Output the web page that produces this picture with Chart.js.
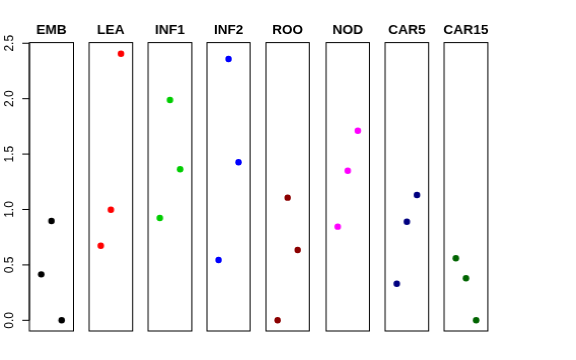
<!DOCTYPE html>
<html>
<head>
<meta charset="utf-8">
<script src="https://cdn.jsdelivr.net/npm/chart.js@4"></script>
<style>
  html, body { margin: 0; padding: 0; background: #fff; }
  #wrap { position: relative; width: 576px; height: 360px; overflow: hidden; }
  .panel { position: absolute; top: 0; height: 360px; }
</style>
</head>
<body>
<div id="wrap"></div>
<script>
const panelNames = ["EMB", "LEA", "INF1", "INF2", "ROO", "NOD", "CAR5", "CAR15"];
const panelColors = ["#000000", "#FF0000", "#00CD00", "#0000FF", "#8B0000", "#FF00FF", "#000080", "#006400"];
const yTicks = [0, 0.5, 1, 1.5, 2, 2.5];

const emb = [0.415, 0.896, 0];
const lea = [0.673, 0.998, 2.406];
const inf1 = [0.923, 1.988, 1.363];
const inf2 = [0.544, 2.358, 1.426];
const roo = [0, 1.107, 0.634];
const nod = [0.845, 1.35, 1.711];
const car5 = [0.33, 0.89, 1.131];
const car15 = [0.56, 0.379, 0];
const allValues = [emb, lea, inf1, inf2, roo, nod, car5, car15];

const wrap = document.getElementById("wrap");
const plotTop = 42.6, plotBottom = 331;
const firstLeft = 29, step = 59.2, panelW = 44.5;

// box, title and (first panel only) the left axis
const panelDeco = {
  id: "panelDeco",
  afterDraw(chart, args, opts) {
    const { ctx, chartArea: a } = chart;
    ctx.save();
    ctx.strokeStyle = "#000";
    ctx.lineWidth = 1;
    ctx.strokeRect(a.left, a.top, a.right - a.left, a.bottom - a.top);

    ctx.fillStyle = "#000";
    ctx.font = "bold 13.5px 'Liberation Sans', Arial, sans-serif";
    ctx.textAlign = "center";
    ctx.textBaseline = "alphabetic";
    ctx.fillText(opts.name, (a.left + a.right) / 2, 34.3);

    if (opts.axis) {
      const y = chart.scales.y;
      ctx.beginPath();
      ctx.moveTo(a.left, y.getPixelForValue(yTicks[0]));
      ctx.lineTo(a.left, y.getPixelForValue(yTicks[yTicks.length - 1]));
      yTicks.forEach(t => {
        const py = y.getPixelForValue(t);
        ctx.moveTo(a.left - 7, py);
        ctx.lineTo(a.left, py);
      });
      ctx.stroke();
      ctx.font = "12px 'Liberation Sans', Arial, sans-serif";
      yTicks.forEach(t => {
        const py = y.getPixelForValue(t);
        ctx.save();
        ctx.translate(12.7, py);
        ctx.rotate(-Math.PI / 2);
        ctx.textAlign = "center";
        ctx.fillText(t.toFixed(1), 0, 0);
        ctx.restore();
      });
    }
    ctx.restore();
  }
};

panelNames.forEach((name, i) => {
  const left = firstLeft + i * step;
  const divLeft = i === 0 ? 0 : Math.floor(left) - 3;
  const padLeft = left - divLeft;
  const div = document.createElement("div");
  div.className = "panel";
  div.style.left = divLeft + "px";
  div.style.width = (padLeft + panelW + 3) + "px";
  const canvas = document.createElement("canvas");
  div.appendChild(canvas);
  wrap.appendChild(div);

  new Chart(canvas, {
    type: "scatter",
    data: {
      datasets: [{
        data: allValues[i].map((v, j) => ({ x: j + 1, y: v })),
        backgroundColor: panelColors[i],
        borderWidth: 0,
        pointRadius: 3.2
      }]
    },
    options: {
      responsive: true,
      maintainAspectRatio: false,
      animation: false,
      layout: { padding: { left: padLeft, right: 3, top: plotTop, bottom: 360 - plotBottom } },
      scales: {
        x: { type: "linear", display: false, min: -0.16, max: 4.16 },
        y: { type: "linear", display: false, min: -0.0964, max: 2.506 }
      },
      plugins: {
        legend: { display: false },
        tooltip: { enabled: false },
        panelDeco: { name: name, axis: i === 0 }
      }
    },
    plugins: [panelDeco]
  });
});
</script>
</body>
</html>
